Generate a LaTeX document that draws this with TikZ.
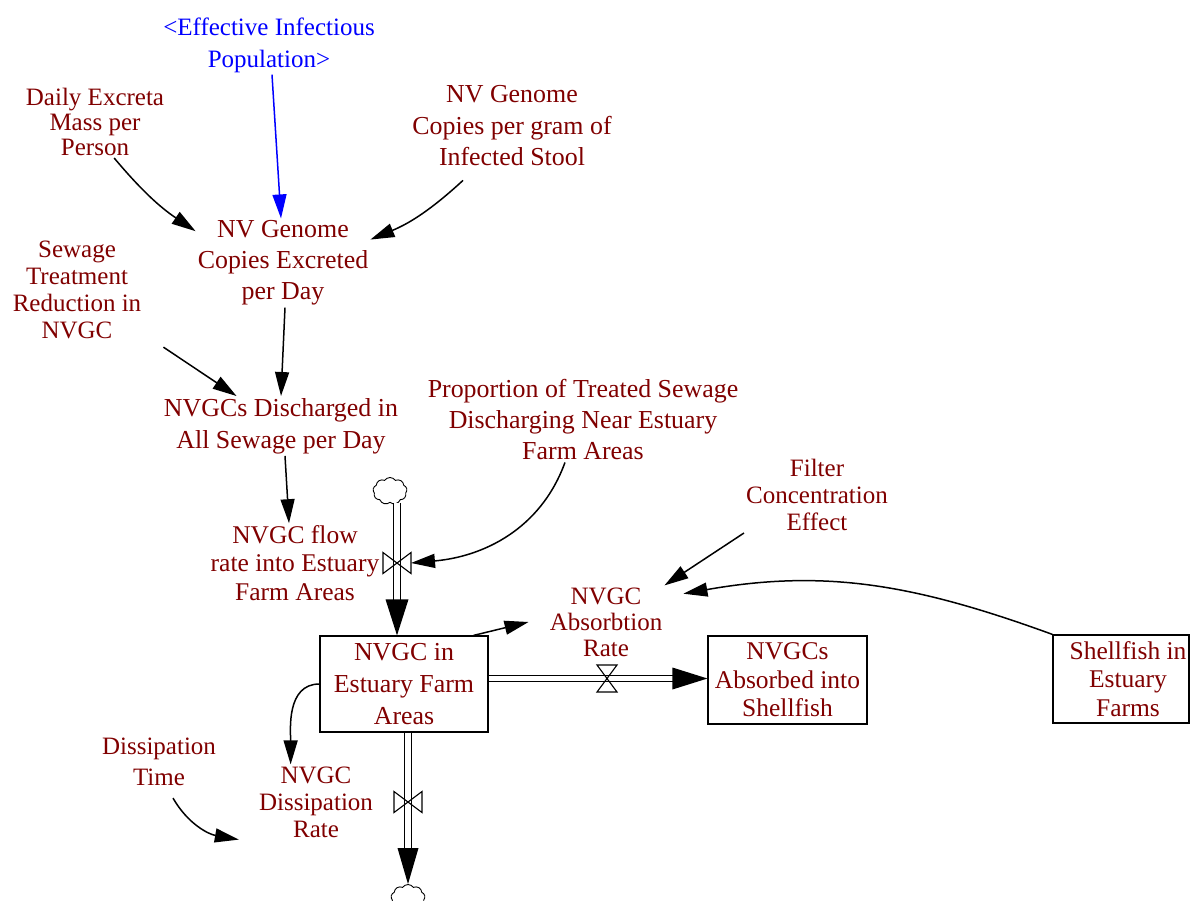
\documentclass[tikz,border=0pt]{standalone}
\usepackage{fontspec}
\setmainfont{Liberation Serif}
\usetikzlibrary{arrows.meta,shapes.symbols,calc}
\definecolor{vred}{RGB}{128,0,0}
\definecolor{vblue}{RGB}{0,0,255}
\begin{document}
\begin{tikzpicture}[x=1pt,y=1pt,
  lbl/.style={align=center, text=vred, inner sep=2pt, font=\fontsize{25}{#1}\selectfont},
  lbl/.default=30,
  big/.style={font=\fontsize{25.9}{#1}\selectfont},
  mid/.style={font=\fontsize{25.5}{#1}\selectfont},
  stock/.style={draw, line width=1.2pt, align=center, text=vred, inner sep=2pt},
  conn/.style={line width=1.5pt, -{Triangle[length=24pt,width=14pt]}},
  pipe/.style={double, double distance=5.5pt, line width=1.2pt},
  valvebox/.style={inner sep=0pt, outer sep=0pt},
  valveline/.style={line width=1.1pt},
  source/.style={cloud, cloud puffs=9, cloud puff arc=110, cloud ignores aspect,
                 draw, line width=0.9pt, minimum width=34pt, minimum height=27pt, inner sep=0pt}]
\useasboundingbox (0,0) rectangle (1190,-901);

% auxiliaries and constants
\node[lbl=32, text=vblue] (eff) at (269,-45) {<Effective Infectious\\Population>};
\node[lbl=25] (daily) at (95,-122) {Daily Excreta\\Mass per\\Person};
\node[lbl, big=31.5] (stool) at (512,-126) {NV Genome\\Copies per gram of\\Infected Stool};
\node[lbl, big=31] (excreted) at (283,-263) {NV Genome\\Copies Excreted\\per Day};
\node[lbl=27] (sewage) at (77,-290) {Sewage\\Treatment\\Reduction in\\NVGC};
\node[lbl, big=32] (discharged) at (281,-426) {NVGCs Discharged in\\All Sewage per Day};
\node[lbl, big=31] (proportion) at (583,-420) {Proportion of Treated Sewage\\Discharging Near Estuary\\Farm Areas};
\node[lbl, mid=28.5] (flowrate) at (295,-563) {NVGC flow\\rate into Estuary\\Farm Areas};
\node[lbl=27] (filter) at (817,-495) {Filter\\Concentration\\Effect};
\node[lbl=26] (absorb) at (606,-622) {NVGC\\Absorbtion\\Rate};
\node[lbl=31] (disstime) at (159,-762) {Dissipation\\Time};
\node[lbl=27] (dissrate) at (316,-802) {NVGC\\Dissipation\\Rate};

% stocks
\node[stock, big=32, minimum width=168pt, minimum height=96pt] (box1) at (404,-684) {NVGC in\\Estuary Farm\\Areas};
\node[stock, mid=28.5, minimum width=159pt, minimum height=88pt] (box2) at (787.5,-680) {NVGCs\\Absorbed into\\Shellfish};
\node[stock, mid=28.5, minimum width=136pt, minimum height=88pt] (box3) at (1121,-679)
  {\hspace*{14pt}Shellfish in\\\hspace*{14pt}Estuary\\\hspace*{14pt}Farms};

% sources and sinks
\node[source] (c1) at (390,-491) {};
\node[source] (c2) at (408,-898) {};

% valves
\node[valvebox, minimum width=28pt, minimum height=21pt] (v1) at (397,-563) {};
\node[valvebox, minimum width=20pt, minimum height=27pt] (v2) at (607,-678.5) {};
\node[valvebox, minimum width=28pt, minimum height=21pt] (v3) at (408,-802) {};

% flow pipes
\draw[pipe, shorten >=34pt] (v1 |- c1.south) -- (v1 |- box1.north);
\fill (v1 |- box1.north) -- ++(-11.5,36) -- ++(23,0) -- cycle;
\draw[pipe, shorten >=34pt] (box1.east |- v2) -- (box2.west |- v2);
\fill (box2.west |- v2) -- ++(-35,11) -- ++(0,-22) -- cycle;
\draw[pipe, shorten >=36pt] (v3 |- box1.south) -- (v3 |- c2.north);
\fill (v3 |- c2.north) -- ++(-10.5,36) -- ++(21,0) -- cycle;

\draw[valveline] (v1.north west) -- (v1.south east) -- (v1.north east) -- (v1.south west) -- cycle;
\draw[valveline] (v2.north west) -- (v2.north east) -- (v2.south west) -- (v2.south east) -- cycle;
\draw[valveline] (v3.north west) -- (v3.south east) -- (v3.north east) -- (v3.south west) -- cycle;

% causal links
\draw[conn, vblue] ([xshift=3pt]eff.south) -- ([xshift=-2pt]excreted.north);
\draw[conn] (daily.-62) to[bend right=8] (excreted.160);
\draw[conn] ([shift={(-49,-12)}]stool.south) to[bend left=10] (excreted.15);
\draw[conn] ([xshift=2pt]excreted.south) -- (discharged.north);
\draw[conn] ([shift={(20,-6)}]sewage.south east) -- (discharged.146);
\draw[conn] ([xshift=4pt]discharged.south) -- ([xshift=-6pt]flowrate.north);
\draw[conn] (proportion.-113) to[out=-110, in=5] (v1.east);
\draw[conn] (filter.south west) -- (absorb.north east);
\draw[conn] (box3.north west) to[out=160, in=10] ([shift={(19,7)}]absorb.20);
\draw[conn] ([xshift=-15pt]box1.north east) -- ([xshift=-19pt]absorb.west);
\draw[conn] (box1.west) to[out=180, in=90] (dissrate.124);
\draw[conn] ([shift={(14,-10)}]disstime.south) to[out=-60, in=170] ([xshift=-18pt]dissrate.south west);
\end{tikzpicture}
\end{document}
